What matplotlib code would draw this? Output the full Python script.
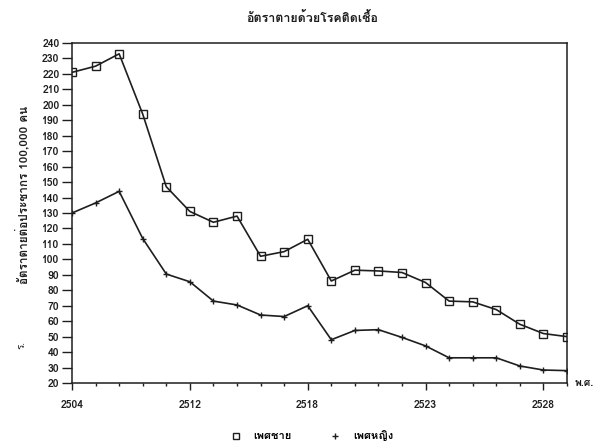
import matplotlib
matplotlib.use("Agg")
import matplotlib.pyplot as plt
from matplotlib import font_manager
from matplotlib.ft2font import FT2Font
from matplotlib.lines import Line2D

# ---- data ----
year_labels = ["2504", "2512", "2518", "2523", "2528"]
label_index = [0, 5, 10, 15, 20]
male = [221, 225, 233, 194, 147, 131, 124, 128, 102, 105, 113, 86,
        93, 92.5, 91.5, 85, 73, 72.5, 67.5, 58, 52, 50]
female = [130, 136.5, 144, 113.5, 90.5, 85.5, 73, 70.5, 64, 63, 70, 48,
          54, 54.5, 49.5, 44, 36.3, 36.3, 36.3, 31, 28.4, 28]
title = "อัตราตายด้วยโรคติดเชื้อ"
ylabel = "อัตราตายต่อประชากร 100,000 คน"
xlabel = "พ.ศ."
legend_labels = ["เพศชาย", "เพศหญิง"]

# ---- find a font with Thai glyphs ----
thai_family = None
for f in font_manager.fontManager.ttflist:
    try:
        ft = FT2Font(f.fname)
        cm = ft.get_charmap()
        if 0x0E2D in cm and 0x0E0A in cm:
            thai_family = f.name
            break
    except Exception:
        continue
families = ([thai_family] if thai_family else []) + ["DejaVu Sans"]
plt.rcParams["font.family"] = families

ink = "#1e1e1e"
fig = plt.figure(figsize=(6.06, 4.46), dpi=100)
ax = fig.add_axes([72 / 606, 1 - 383 / 446, (567 - 72) / 606, (383 - 43) / 446])

x = list(range(len(male)))
ax.plot(x, male, color=ink, lw=1.2, marker="s", ms=5.5, mfc="none",
        mec=ink, mew=1.0)
ax.plot(x, female, color=ink, lw=1.2, marker="+", ms=4.5, mew=1.0)

ax.set_xlim(0, len(male) - 1)
ax.set_ylim(20, 240)
ax.set_yticks(range(20, 241, 10))
ax.set_xticks(label_index)
ax.set_xticklabels(year_labels)
ax.set_xticks(x, minor=True)
ax.tick_params(axis="y", direction="out", length=7, width=1, colors=ink,
               labelsize=7.5, pad=2)
ax.tick_params(axis="x", which="major", direction="out", length=5, width=1,
               colors=ink, labelsize=7.5, pad=7)
ax.tick_params(axis="x", which="minor", direction="out", length=2.5, width=1,
               colors=ink)
for lab in ax.get_xticklabels() + ax.get_yticklabels():
    lab.set_fontweight("bold")
for s in ax.spines.values():
    s.set_color(ink)
    s.set_linewidth(1.1)

fig.text(0.515, 1 - 18 / 446, title, ha="center", va="center", fontsize=9,
         color=ink, fontweight="bold")
fig.text(22 / 606, 1 - 195 / 446, ylabel, rotation=90, ha="center",
         va="center", fontsize=8.5, color=ink, fontweight="bold")
fig.text(22 / 606, 1 - 345 / 446, "ร.", rotation=90, ha="center",
         va="center", fontsize=7, color=ink)
fig.text(575 / 606, 1 - 383 / 446, xlabel, ha="left", va="center",
         fontsize=7.5, color=ink, fontweight="bold")

h_m = Line2D([], [], ls="none", marker="s", ms=5, mfc="none", mec=ink, mew=1.0)
h_f = Line2D([], [], ls="none", marker="+", ms=5, mec=ink, mew=1.0)
fig.legend([h_m, h_f], legend_labels, loc="center", ncol=2, frameon=False,
           bbox_to_anchor=(0.515, 1 - 436 / 446), fontsize=8,
           columnspacing=3.5, handlelength=0.8, handletextpad=1.2,
           numpoints=1, prop={"weight": "bold", "size": 8})

fig.savefig("out.png", dpi=100, facecolor="white")
